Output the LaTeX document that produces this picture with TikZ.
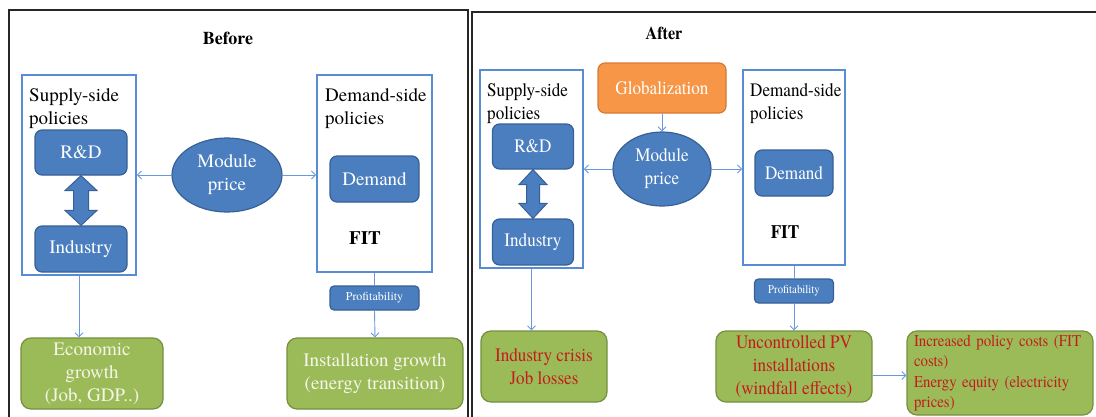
\documentclass[tikz,border=0pt]{standalone}
\usepackage{fontspec}
\setmainfont{texgyretermes}[Extension=.otf, UprightFont=*-regular, BoldFont=*-bold,
  ItalicFont=*-italic, BoldItalicFont=*-bolditalic]
\newfontfamily\narrowfont{texgyretermes}[Extension=.otf, UprightFont=*-regular,
  BoldFont=*-bold, FakeStretch=0.9]
\usetikzlibrary{arrows.meta, shapes.geometric, calc}

\definecolor{nodeblue}{RGB}{74,126,190}
\definecolor{nodeedge}{RGB}{56,96,150}
\definecolor{lineblue}{RGB}{105,152,222}
\definecolor{boxblue}{RGB}{88,140,212}
\definecolor{leafgreen}{RGB}{155,187,89}
\definecolor{leafedge}{RGB}{116,144,62}
\definecolor{globorange}{RGB}{247,150,70}
\definecolor{globedge}{RGB}{214,122,52}
\definecolor{effectred}{RGB}{196,28,28}
\definecolor{paletext}{RGB}{245,245,232}

\newcommand{\lfont}{\fontsize{19}{23}\selectfont}
\newcommand{\rfont}{\narrowfont\fontsize{19}{23}\selectfont}

\begin{document}
\begin{tikzpicture}[x=1pt, y=-1pt,
  polbox/.style={draw=boxblue, line width=1.8pt, inner sep=0pt},
  bluebox/.style={draw=nodeedge, line width=1.2pt, fill=nodeblue, rounded corners=7pt,
    text=white, align=center, inner sep=0pt},
  greenbox/.style={draw=leafedge, line width=1.2pt, fill=leafgreen, rounded corners=10pt,
    align=center, inner sep=0pt},
  pricebox/.style={ellipse, draw=nodeedge, line width=1.2pt, fill=nodeblue, text=white,
    align=center, inner sep=0pt},
  conn/.style={draw=lineblue, line width=0.9pt, -{Straight Barb[length=4pt, width=8pt]}},
  plain/.style={draw=lineblue, line width=0.9pt},
  dblarrow/.style={draw=nodeedge, line width=1pt, fill=nodeblue, line join=miter},
  panel/.style={draw=black!85, line width=2pt}
]
  \useasboundingbox (0,0) rectangle (1096,416);

  % panels
  \draw[panel] (9,420) -- (9,10) -- (468,10) -- (468,420);
  \draw[panel] (472,420) -- (472,12) -- (1100,12);

  % ---------- before ----------
  \node[font=\fontsize{18}{22}\selectfont\bfseries] (before) at (228,38) {Before};

  \node[polbox, minimum width=114, minimum height=200] (supL) at (79,175) {};
  \node[anchor=north west, inner sep=0pt, align=left, font=\lfont] (supLtxt) at (29,88)
    {Supply-side\\policies};
  \node[bluebox, minimum width=92, minimum height=45, font=\lfont] (rdL) at (81,152.5) {R\&D};
  \node[bluebox, minimum width=92, minimum height=46, font=\lfont] (indL) at (81,249) {Industry};
  \draw[dblarrow] (rdL.south) -- ++(16,15) -- ++(-8.5,0) -- ($(indL.north)+(7.5,-15)$)
    -- ++(8.5,0) -- (indL.north) -- ++(-16,-15) -- ++(8.5,0) -- ($(rdL.south)+(-7.5,15)$)
    -- ++(-8.5,0) -- cycle;

  \node[pricebox, minimum width=110, minimum height=74, font=\lfont] (modL) at (227,175)
    {Module\\price};

  \node[polbox, minimum width=115, minimum height=197] (demL) at (374.5,173.5) {};
  \node[anchor=north west, inner sep=0pt, align=left, font=\lfont] (demLtxt) at (325,88)
    {Demand-side\\policies};
  \node[bluebox, minimum width=89, minimum height=46, font=\lfont] (dL) at (374.5,179) {Demand};
  \node[font=\lfont\bfseries] (fitL) at (365,238) {FIT};
  \node[bluebox, rounded corners=4pt, minimum width=89, minimum height=24,
    font=\fontsize{12}{14}\selectfont] (profL) at (374.5,298) {Profitability};

  \node[greenbox, minimum width=142, minimum height=71, text=paletext, font=\lfont] (econ)
    at (92,373.5) {Economic\\growth\\(Job, GDP..)};
  \node[greenbox, minimum width=176, minimum height=71, text=paletext, font=\lfont] (instL)
    at (375,373.5) {Installation growth\\(energy transition)};

  \draw[conn] (modL.west) -- (modL.west -| supL.east);
  \draw[conn] (modL.east) -- (modL.east -| demL.west);
  \draw[conn] (supL.south) -- (supL.south |- econ.north);
  \draw[plain] (demL.south) -- (profL.north);
  \draw[conn] (profL.south) -- (instL.north);

  % ---------- after ----------
  \node[font=\narrowfont\fontsize{18}{22}\selectfont\bfseries] (after) at (664,33) {After};

  \node[polbox, minimum width=103, minimum height=198] (supR) at (531.5,169) {};
  \node[anchor=north west, inner sep=0pt, align=left, font=\rfont] (supRtxt) at (487,83)
    {Supply-side\\policies};
  \node[bluebox, minimum width=81, minimum height=45, font=\rfont] (rdR) at (533,146.5) {R\&D};
  \node[bluebox, minimum width=81, minimum height=46, font=\rfont] (indR) at (533,242) {Industry};
  \draw[dblarrow] (rdR.south) -- ++(14,15) -- ++(-7.5,0) -- ($(indR.north)+(6.5,-15)$)
    -- ++(7.5,0) -- (indR.north) -- ++(-14,-15) -- ++(7.5,0) -- ($(rdR.south)+(-6.5,15)$)
    -- ++(-7.5,0) -- cycle;

  \node[bluebox, draw=globedge, fill=globorange, minimum width=128, minimum height=50,
    font=\rfont] (glob) at (662,88) {Globalization};
  \node[pricebox, minimum width=98, minimum height=74, font=\rfont] (modR) at (662,169)
    {Module\\price};

  \node[polbox, minimum width=102, minimum height=195] (demR) at (794,167.5) {};
  \node[anchor=north west, inner sep=0pt, align=left, font=\rfont] (demRtxt) at (750,83)
    {Demand-side\\policies};
  \node[bluebox, minimum width=78, minimum height=46, font=\rfont] (dR) at (794,173) {Demand};
  \node[font=\rfont\bfseries] (fitR) at (785,232) {FIT};
  \node[bluebox, rounded corners=4pt, minimum width=79, minimum height=24,
    font=\narrowfont\fontsize{12}{14}\selectfont] (profR) at (794,291) {Profitability};

  \node[greenbox, minimum width=126, minimum height=71, text=effectred, font=\rfont] (crisis)
    at (544,366.5) {Industry crisis\\Job losses};
  \node[greenbox, minimum width=156, minimum height=71, text=effectred, font=\rfont] (unctr)
    at (794,366.5) {Uncontrolled PV\\installations\\(windfall effects)};
  \node[greenbox, minimum width=186, minimum height=84, text width=172, align=left,
    text=effectred, font=\narrowfont\fontsize{16.5}{20.3}\selectfont] (incr) at (1000,373)
    {Increased policy costs (FIT\\costs)\\Energy equity (electricity\\prices)};

  \draw[conn] (glob.south) -- (modR.north);
  \draw[conn] (modR.west) -- (modR.west -| supR.east);
  \draw[conn] (modR.east) -- (modR.east -| demR.west);
  \draw[conn] (supR.south) -- (supR.south |- crisis.north);
  \draw[plain] (demR.south) -- (profR.north);
  \draw[conn] (profR.south) -- (unctr.north);
  \draw[conn] ($(unctr.east)+(0,9)$) -- ($(incr.west)+(0,2.5)$);
\end{tikzpicture}
\end{document}
